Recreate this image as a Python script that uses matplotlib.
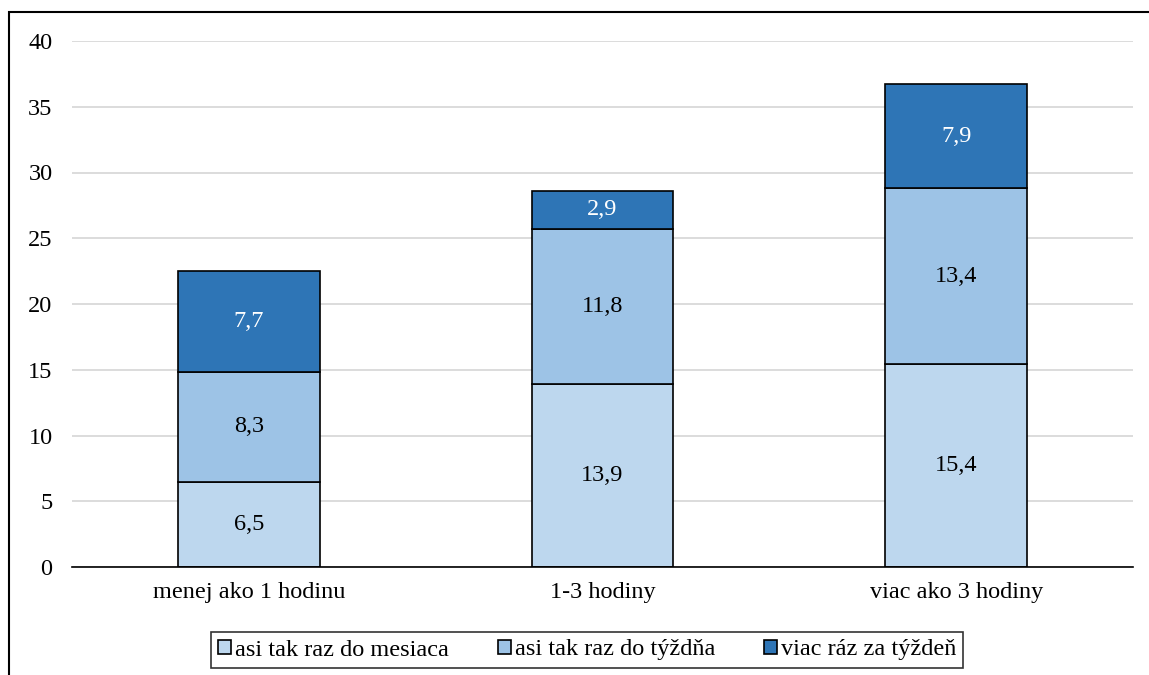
import numpy as np
import matplotlib
matplotlib.use("Agg")
import matplotlib.pyplot as plt
from matplotlib.patches import Rectangle

plt.rcParams['font.family'] = ['Liberation Serif', 'DejaVu Serif']

# data
kategorie = ["menej ako 1 hodinu", "1-3 hodiny", "viac ako 3 hodiny"]
mesiac = [6.5, 13.9, 15.4]
tyzden = [8.3, 11.8, 13.4]
viac = [7.7, 2.9, 7.9]
serie_nazvy = ["asi tak raz do mesiaca", "asi tak raz do týždňa", "viac ráz za týždeň"]
farby = ["#BDD7EE", "#9DC3E6", "#2E75B6"]
farby_textu = ["black", "black", "white"]

FS = 17.5
W, H = 1149, 675
fig = plt.figure(figsize=(W / 100, H / 100), dpi=100)
ax = fig.add_axes([72 / W, 1 - 567 / H, (1133 - 72) / W, (567 - 41) / H])

# ramcek okolo grafu (orezany vpravo a dole)
fig.patches.append(Rectangle((9 / W, -0.1), 1.2, 1 - 12 / H + 0.1, transform=fig.transFigure,
                             fill=False, edgecolor="black", linewidth=1.5))

x = np.arange(len(kategorie))
spodok = np.zeros(len(kategorie))
for hodnoty, nazov, farba, ft in zip([mesiac, tyzden, viac], serie_nazvy, farby, farby_textu):
    bars = ax.bar(x, hodnoty, 0.4, bottom=spodok, color=farba, edgecolor="black",
                  linewidth=1.2, label=nazov, zorder=3)
    for xi, b, v in zip(x, spodok, hodnoty):
        ax.text(xi, b + v / 2, f"{v:.1f}".replace(".", ","), ha="center", va="center",
                fontsize=FS, color=ft, zorder=4)
    spodok = spodok + np.array(hodnoty)

ax.set_xlim(-0.5, 2.5)
ax.set_ylim(0, 40)
ax.set_yticks(range(0, 41, 5))
ax.set_xticks(x)
ax.set_xticklabels(kategorie)
ax.tick_params(axis="both", length=0, labelsize=FS)
ax.tick_params(axis="y", pad=14)
ax.tick_params(axis="x", pad=11)
ax.grid(axis="y", color="#D9D9D9", linewidth=1.3, zorder=0)
for s in ["top", "right", "left"]:
    ax.spines[s].set_visible(False)
ax.spines["bottom"].set_color("black")
ax.spines["bottom"].set_linewidth(1.2)
ax.spines["bottom"].set_zorder(5)

leg = fig.legend(loc="center", bbox_to_anchor=(587 / W, 1 - 650 / H), ncol=3, fontsize=FS,
                 frameon=True, fancybox=False, edgecolor="black", handlelength=0.55,
                 handleheight=0.55, handletextpad=0.15, columnspacing=2.0,
                 borderpad=0.3)
leg.get_frame().set_linewidth(1.2)

fig.savefig("out.png", dpi=100)
